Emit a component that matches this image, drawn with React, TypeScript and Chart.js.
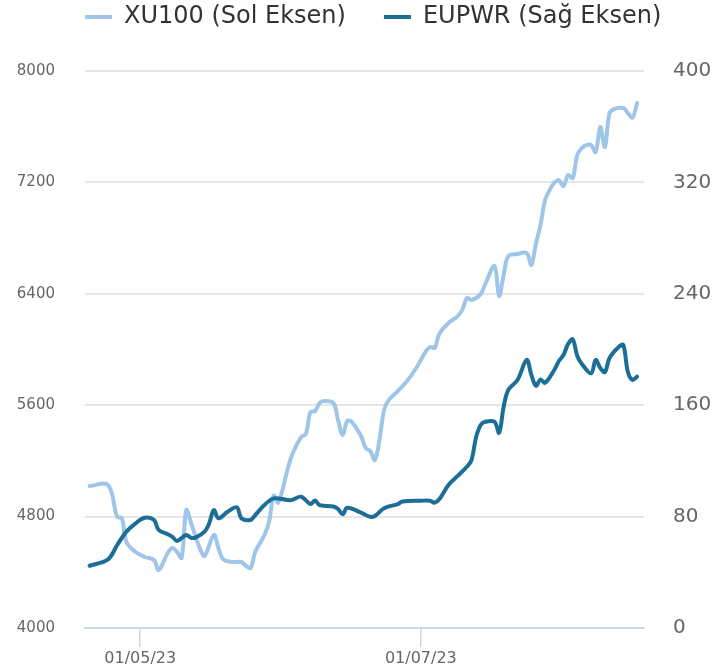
import React, { useEffect, useRef } from 'react';
import { Chart, registerables } from 'chart.js';

Chart.register(...registerables);

// ---- Data (dates as DD/MM/YY) ----
const xuDates = ['20/04/23','24/04/23','26/04/23','27/04/23','28/04/23','30/04/23',
  '02/05/23','04/05/23','05/05/23','07/05/23','08/05/23','09/05/23','10/05/23','11/05/23','12/05/23','13/05/23','14/05/23','15/05/23','17/05/23','18/05/23','19/05/23','21/05/23','23/05/23','24/05/23','25/05/23','26/05/23','28/05/23','29/05/23','30/05/23','31/05/23',
  '02/06/23','03/06/23','05/06/23','06/06/23','07/06/23','08/06/23','09/06/23','10/06/23','12/06/23','13/06/23','14/06/23','15/06/23','16/06/23','18/06/23','19/06/23','20/06/23','21/06/23','22/06/23','23/06/23','24/06/23','26/06/23','28/06/23','30/06/23',
  '02/07/23','03/07/23','04/07/23','05/07/23','07/07/23','09/07/23','10/07/23','11/07/23','12/07/23','14/07/23','15/07/23','17/07/23','18/07/23','19/07/23','20/07/23','22/07/23','24/07/23','25/07/23','26/07/23','27/07/23','28/07/23','29/07/23','30/07/23','31/07/23',
  '01/08/23','02/08/23','03/08/23','04/08/23','05/08/23','06/08/23','07/08/23','08/08/23','09/08/23','10/08/23','11/08/23','12/08/23','14/08/23','15/08/23','16/08/23','17/08/23'];
const xuValues = [5020,5027,4797,4790,4618,4546,
  4510,4488,4416,4539,4575,4546,4503,4847,4760,4660,4570,4517,4668,4575,4495,4474,4474,4445,4431,4546,4668,4761,4950,4900,
  5135,5242,5372,5393,5551,5558,5616,5630,5616,5494,5386,5486,5479,5379,5293,5271,5206,5350,5565,5637,5702,5774,5867,
  5982,6018,6011,6111,6190,6240,6284,6370,6355,6398,6470,6600,6384,6535,6671,6686,6693,6607,6758,6894,7073,7145,7196,7217,
  7174,7253,7231,7397,7447,7468,7468,7418,7598,7454,7698,7727,7734,7698,7665,7770];

const euDates = ['20/04/23','24/04/23','26/04/23','28/04/23','30/04/23',
  '02/05/23','04/05/23','05/05/23','07/05/23','08/05/23','09/05/23','11/05/23','12/05/23','13/05/23','15/05/23','16/05/23','17/05/23','18/05/23','20/05/23','22/05/23','23/05/23','25/05/23','26/05/23','28/05/23','30/05/23',
  '02/06/23','03/06/23','05/06/23','07/06/23','08/06/23','09/06/23','12/06/23','13/06/23','14/06/23','15/06/23','18/06/23','20/06/23','21/06/23','23/06/23','26/06/23','27/06/23',
  '01/07/23','03/07/23','04/07/23','05/07/23','07/07/23','09/07/23','11/07/23','12/07/23','13/07/23','14/07/23','15/07/23','17/07/23','18/07/23','19/07/23','20/07/23','22/07/23','24/07/23','25/07/23','26/07/23','27/07/23','28/07/23','30/07/23','31/07/23',
  '01/08/23','02/08/23','03/08/23','04/08/23','05/08/23','07/08/23','08/08/23','09/08/23','10/08/23','11/08/23','13/08/23','14/08/23','15/08/23','16/08/23','17/08/23'];
const euValues = [44.7,49.3,59.6,69.2,75.2,
  79.2,77.6,70.4,67.3,65.5,62.5,66.8,64.8,64.9,69.2,75.2,84.7,78.8,83.5,86.7,78.8,77.6,81.1,88.3,93.1,
  91.9,92.0,94.3,89.0,91.5,88.3,87.3,85.5,81.6,86.4,82.8,79.9,80.4,86.0,89.0,90.8,
  91.4,91.4,90.0,92.4,102.7,109.2,115.8,120.6,137,145.8,148.1,148.1,140.2,158.9,170.9,178.1,192.5,182,174,178.5,176,185.3,191.7,
  196,203.9,207.3,195.3,189.6,182.9,192.5,186.7,183.8,193.9,201.8,203.2,183.8,178.1,180.5];

const xTickDates = ['01/05/23', '01/07/23'];
const leftTicks = [4000, 4800, 5600, 6400, 7200, 8000];
const rightTicks = [0, 80, 160, 240, 320, 400];
const seriesNames = ['XU100 (Sol Eksen)', 'EUPWR (Sağ Eksen)'];

// ---- helpers ----
const BASE = Date.UTC(2023, 4, 1);
const DAY = 86400000;
const toDay = (s: string) => {
  const [d, m, y] = s.split('/').map(Number);
  return Math.round((Date.UTC(2000 + y, m - 1, d) - BASE) / DAY);
};
const fmtDay = (v: number) => {
  const dt = new Date(BASE + v * DAY);
  const dd = String(dt.getUTCDate()).padStart(2, '0');
  const mm = String(dt.getUTCMonth() + 1).padStart(2, '0');
  const yy = String(dt.getUTCFullYear() % 100).padStart(2, '0');
  return `${dd}/${mm}/${yy}`;
};

const FONT = "'DejaVu Sans', sans-serif";
const LIGHT = '#9fc5e8';
const DARK = '#1d6e96';

const legendTweak = {
  id: 'legendTweak',
  beforeInit(chart: any) {
    const lg = chart.legend;
    const orig = lg.fit;
    lg.fit = function () {
      orig.call(lg);
      lg.height = 71;
    };
  },
  beforeDraw(chart: any) {
    const lg = chart.legend;
    const pad = lg.options.labels.padding;
    const fs = lg.options.labels.font.size;
    lg.left = 85 - pad;
    lg.top = 17 - pad - fs / 2;
  },
};

export default function App() {
  const ref = useRef<HTMLCanvasElement>(null);
  useEffect(() => {
    const xu = xuDates.map((d, i) => ({ x: toDay(d), y: xuValues[i] }));
    const eu = euDates.map((d, i) => ({ x: toDay(d), y: euValues[i] }));
    const chart = new Chart(ref.current as HTMLCanvasElement, {
      type: 'line',
      data: {
        datasets: [
          {
            label: seriesNames[1],
            data: eu,
            yAxisID: 'yR',
            borderColor: DARK,
            backgroundColor: DARK,
            borderWidth: 4,
            pointRadius: 0,
            tension: 0.35,
            borderCapStyle: 'round',
            borderJoinStyle: 'round',
          },
          {
            label: seriesNames[0],
            data: xu,
            yAxisID: 'yL',
            borderColor: LIGHT,
            backgroundColor: LIGHT,
            borderWidth: 4,
            pointRadius: 0,
            tension: 0.35,
            borderCapStyle: 'round',
            borderJoinStyle: 'round',
          },
        ],
      },
      options: {
        responsive: false,
        animation: false,
        parsing: false as any,
        layout: { padding: 0 },
        plugins: {
          tooltip: { enabled: false },
          legend: {
            position: 'top',
            align: 'start',
            labels: {
              boxWidth: 27,
              boxHeight: 4,
              padding: 38,
              color: '#333333',
              font: { family: FONT, size: 24 },
              generateLabels: (c: any) =>
                [1, 0].map((i) => ({
                  text: c.data.datasets[i].label,
                  fillStyle: c.data.datasets[i].borderColor,
                  strokeStyle: c.data.datasets[i].borderColor,
                  lineWidth: 0,
                  hidden: false,
                  datasetIndex: i,
                  fontColor: '#333333',
                })),
            },
          },
        },
        scales: {
          x: {
            type: 'linear',
            position: 'bottom',
            min: -12,
            max: 109.5,
            afterBuildTicks: (scale: any) => {
              scale.ticks = xTickDates.map((s) => ({ value: toDay(s) }));
            },
            afterFit: (scale: any) => {
              scale.height = 43;
            },
            grid: {
              display: true,
              drawOnChartArea: false,
              drawTicks: true,
              tickLength: 19,
              color: '#ccd6eb',
              lineWidth: 1.5,
            },
            border: { display: true, color: '#ccd6eb', width: 2 },
            ticks: {
              autoSkip: false,
              maxRotation: 0,
              padding: 2,
              color: '#666666',
              font: { family: FONT, size: 16 },
              callback: (v: any) => fmtDay(Number(v)),
            },
          },
          yL: {
            type: 'linear',
            position: 'left',
            min: leftTicks[0],
            max: leftTicks[leftTicks.length - 1],
            afterBuildTicks: (scale: any) => {
              scale.ticks = leftTicks.map((v) => ({ value: v }));
            },
            afterFit: (scale: any) => {
              scale.width = 85;
            },
            grid: {
              drawTicks: false,
              lineWidth: 2,
              color: (ctx: any) => (ctx.tick && ctx.tick.value === leftTicks[0] ? 'rgba(0,0,0,0)' : '#e6e6e6'),
            },
            border: { display: false },
            ticks: {
              padding: 30,
              color: '#666666',
              font: { family: FONT, size: 15 },
              callback: (v: any) => String(v),
            },
          },
          yR: {
            type: 'linear',
            position: 'right',
            min: rightTicks[0],
            max: rightTicks[rightTicks.length - 1],
            afterBuildTicks: (scale: any) => {
              scale.ticks = rightTicks.map((v) => ({ value: v }));
            },
            afterFit: (scale: any) => {
              scale.width = 84;
            },
            grid: { drawOnChartArea: false, drawTicks: false },
            border: { display: false },
            ticks: {
              padding: 29,
              color: '#666666',
              font: { family: FONT, size: 20 },
              callback: (v: any) => String(v),
            },
          },
        },
      } as any,
      plugins: [legendTweak as any],
    });
    return () => chart.destroy();
  }, []);

  return (
    <div style={{ position: 'fixed', left: 0, top: 0, width: 728, height: 671, background: '#ffffff' }}>
      <canvas ref={ref} width={728} height={671} style={{ display: 'block' }} />
    </div>
  );
}
